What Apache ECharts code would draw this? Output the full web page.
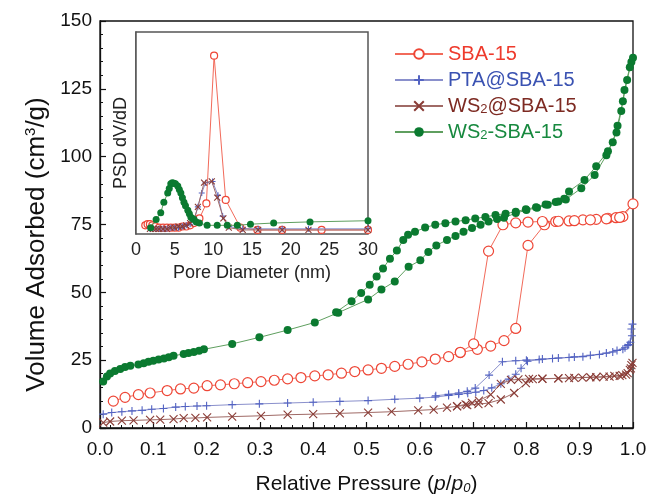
<!DOCTYPE html>
<html>
<head>
<meta charset="utf-8">
<script src="https://cdn.jsdelivr.net/npm/echarts@6/dist/echarts.min.js"></script>
<style>html,body{margin:0;padding:0;background:#fff}#c{width:650px;height:500px}</style>
</head>
<body>
<div id="c"></div>
<script>
// ---- Main isotherms: relative pressure p/p0 and volume adsorbed (cm3/g) ----
// SBA-15 (adsorption then desorption)
const sbaP = [0.025,0.047,0.072,0.094,0.126,0.151,0.176,0.201,0.226,0.252,0.277,0.302,0.327,0.352,0.377,0.403,0.428,0.453,0.478,0.503,0.528,0.553,0.578,0.604,0.629,0.654,0.676,0.708,0.733,0.758,0.780,0.803,0.834,0.855,0.880,0.906,0.931,0.953,0.968,0.981,1.0,
  0.975,0.950,0.920,0.890,0.860,0.830,0.803,0.780,0.756,0.729,0.701,0.676];
const sbaV = [9.9,11.3,12.3,12.9,13.8,14.4,14.7,15.6,15.9,16.3,16.7,17.1,17.6,18.1,18.6,19.2,19.6,20.2,20.8,21.4,22.0,22.7,23.5,24.4,25.4,26.3,27.8,29.0,30.2,32.2,36.7,67.3,74.9,76.1,76.3,76.7,76.9,77.3,77.5,77.9,82.6,
  77.6,77.1,76.7,76.4,76.2,76.1,75.9,75.6,74.9,65.2,31.0,27.9];
// PTA@SBA-15
const ptaP = [0.006,0.022,0.041,0.060,0.079,0.097,0.119,0.142,0.160,0.182,0.200,0.248,0.299,0.352,0.400,0.450,0.503,0.553,0.600,0.629,0.654,0.673,0.690,0.705,0.720,0.735,0.752,0.767,0.780,0.790,0.802,0.824,0.849,0.880,0.906,0.937,0.962,0.981,0.990,0.995,0.997,0.999,
  0.998,0.992,0.985,0.970,0.950,0.920,0.890,0.860,0.830,0.800,0.780,0.755,0.730,0.704,0.689,0.673,0.654,0.630];
const ptaV = [5.1,5.7,6.0,6.3,6.5,6.9,7.2,7.7,7.9,8.1,8.2,8.6,8.9,9.2,9.5,9.8,10.1,10.6,11.0,11.4,12.0,12.4,12.8,13.2,13.8,14.8,16.3,18.0,19.8,22.0,24.6,25.2,25.6,26.0,26.3,27.1,28.0,29.0,30.4,31.6,36.5,38.3,
  34.0,30.8,29.6,28.6,27.6,26.8,26.2,25.8,25.4,25.0,24.8,24.4,19.5,14.7,13.5,12.9,12.4,11.9];
// WS2@SBA-15
const wsaP = [0.006,0.019,0.041,0.063,0.094,0.113,0.138,0.157,0.179,0.201,0.248,0.302,0.352,0.400,0.450,0.503,0.547,0.597,0.626,0.651,0.670,0.689,0.710,0.729,0.752,0.777,0.799,0.812,0.830,0.860,0.880,0.905,0.931,0.956,0.975,0.987,0.994,0.997,0.999,
  0.996,0.990,0.980,0.965,0.945,0.920,0.890,0.860,0.830,0.805,0.785,0.771,0.752,0.733,0.711,0.698,0.686,0.670];
const wsaV = [2.0,2.4,2.7,2.8,3.0,3.1,3.3,3.6,3.7,3.9,4.2,4.5,4.9,5.1,5.4,5.7,6.0,6.5,6.8,7.5,8.0,8.4,8.8,9.2,10.5,12.9,16.5,18.0,18.1,18.3,18.4,18.6,18.7,18.9,19.2,19.7,21.4,23.2,24.0,
  22.0,20.2,19.5,19.2,18.9,18.7,18.5,18.3,18.2,18.1,17.9,17.7,16.3,12.3,10.1,9.3,8.7,8.1];
// WS2-SBA-15
const wsbP = [0.006,0.013,0.019,0.028,0.038,0.047,0.057,0.072,0.082,0.091,0.100,0.110,0.120,0.129,0.138,0.157,0.166,0.176,0.186,0.195,0.248,0.299,0.352,0.403,0.447,0.503,0.528,0.553,0.579,0.601,0.616,0.631,0.651,0.667,0.682,0.698,0.714,0.729,0.745,0.758,0.780,0.800,0.820,0.840,0.860,0.874,0.903,0.928,0.950,0.962,0.971,0.981,0.989,0.997,1.0,
  0.994,0.984,0.978,0.969,0.953,0.931,0.909,0.880,0.871,0.855,0.836,0.818,0.799,0.780,0.761,0.742,0.723,0.704,0.686,0.667,0.648,0.629,0.610,0.591,0.578,0.569,0.557,0.544,0.531,0.519,0.506,0.490,0.472,0.443];
const wsbV = [17.1,19.0,20.1,21.0,21.7,22.5,22.9,23.4,23.9,24.4,24.8,25.2,25.6,26.1,26.6,27.3,27.6,28.0,28.5,29.0,31.0,33.4,36.1,38.9,42.5,47.4,51.0,54.0,59.4,61.8,64.9,67.3,69.3,70.8,72.3,73.7,74.9,76.1,77.0,77.5,79.2,80.3,81.2,82.3,83.5,84.2,88.4,93.2,100.5,105.3,111.4,120.4,128.3,134.9,136.5,
  133.0,124.6,116.8,108.9,102.0,96.5,91.4,87.2,84.5,83.3,82.4,81.4,80.6,79.7,79.0,78.5,77.8,77.2,76.6,76.1,75.5,74.9,73.9,72.3,71.2,69.3,65.4,62.4,58.8,55.8,52.8,49.8,46.7,42.7];

// ---- Inset: pore size distribution (pore diameter nm, relative dV/dD) ----
const psdSbaD = [1.2,1.5,1.8,2.1,2.5,3.0,3.5,4.0,4.5,5.0,5.5,6.0,6.5,7.0,7.5,8.2,9.1,10.1,11.6,13.5,15.7,18.9,24.0,30.0];
const psdSbaY = [0.04,0.05,0.05,0.04,0.03,0.02,0.02,0.02,0.02,0.02,0.02,0.03,0.03,0.04,0.06,0.10,0.23,1.51,0.26,0.02,0.0,0.0,0.0,0.0];
const psdPtaD = [1.8,2.2,2.6,3.0,3.5,4.0,4.5,5.0,5.5,6.0,6.5,7.0,7.5,8.0,8.5,9.0,9.9,10.6,11.2,12.0,13.8,15.8,18.9,22.3,30.0];
const psdPtaY = [0.01,0.01,0.01,0.01,0.01,0.01,0.02,0.02,0.02,0.03,0.04,0.05,0.08,0.20,0.32,0.41,0.42,0.30,0.12,0.03,0.01,0.01,0.01,0.01,0.01];
const psdWsaD = [1.8,2.2,2.6,3.0,3.5,4.0,4.5,5.0,5.5,6.0,6.5,7.0,7.5,8.0,8.8,9.8,10.5,11.3,12.0,13.8,15.8,18.9,22.3,30.0];
const psdWsaY = [0.01,0.01,0.01,0.01,0.01,0.01,0.02,0.02,0.03,0.03,0.04,0.06,0.09,0.20,0.41,0.42,0.28,0.10,0.02,0.0,0.0,0.0,0.0,0.0];
const psdWsbD = [1.9,2.6,3.2,3.6,4.1,4.3,4.5,4.7,4.9,5.1,5.4,5.6,5.8,6.0,6.2,6.4,6.7,6.9,7.1,7.3,7.5,7.8,8.2,9.2,10.5,11.8,13.1,14.8,17.8,22.5,30.0];
const psdWsbY = [0.02,0.09,0.15,0.24,0.32,0.36,0.40,0.41,0.405,0.40,0.38,0.35,0.32,0.28,0.24,0.21,0.17,0.14,0.11,0.10,0.09,0.07,0.06,0.04,0.04,0.04,0.04,0.05,0.06,0.07,0.08];

const names = ['SBA-15', 'PTA@SBA-15', 'WS2@SBA-15', 'WS2-SBA-15'];
const xTicks = ['0.0','0.1','0.2','0.3','0.4','0.5','0.6','0.7','0.8','0.9','1.0'];

const zip = (a, b) => a.map((v, i) => [v, b[i]]);
const FONT = '"Liberation Sans", Arial, sans-serif';
const PLUS = 'path://M5 0 L5 10 M0 5 L10 5';
const CROSS = 'path://M0 0 L10 10 M10 0 L0 10';

const styles = [
  {line: '#f26a5a', sym: 'circle', size: 10, item: {color: '#fff', borderColor: '#ee4636', borderWidth: 1.2}, text: '#ee3a2c', isize: 7},
  {line: '#8a90cc', sym: PLUS, size: 8, item: {color: 'none', borderColor: '#5363c2', borderWidth: 1.1}, text: '#3a52b2', isize: 6},
  {line: '#a06a66', sym: CROSS, size: 8, item: {color: 'none', borderColor: '#8a3c36', borderWidth: 1.1}, text: '#7d2a22', isize: 6},
  {line: '#5f9f5f', sym: 'circle', size: 8, item: {color: '#0b7a30', borderColor: '#0b7a30', borderWidth: 0}, text: '#17893f', isize: 7}
];
const mainData = [zip(sbaP, sbaV), zip(ptaP, ptaV), zip(wsaP, wsaV), zip(wsbP, wsbV)];
const psdData = [zip(psdSbaD, psdSbaY), zip(psdPtaD, psdPtaY), zip(psdWsaD, psdWsaY), zip(psdWsbD, psdWsbY)];

const series = [];
names.forEach((n, i) => {
  const s = styles[i];
  series.push({
    name: n, type: 'line', xAxisIndex: 0, yAxisIndex: 0, data: mainData[i],
    symbol: s.sym, symbolSize: s.size, showSymbol: true, showAllSymbol: true,
    lineStyle: {color: s.line, width: 1}, itemStyle: s.item, z: 3 + i
  });
});
names.forEach((n, i) => {
  const s = styles[i];
  series.push({
    name: n + ' PSD', type: 'line', xAxisIndex: 1, yAxisIndex: 1, data: psdData[i],
    symbol: s.sym, symbolSize: s.isize, showSymbol: true, showAllSymbol: true,
    lineStyle: {color: s.line, width: 1}, itemStyle: s.item, z: 10 + i
  });
});

const chart = echarts.init(document.getElementById('c'), null, {renderer: 'canvas'});
chart.setOption({
  animation: false,
  backgroundColor: '#fff',
  textStyle: {fontFamily: FONT},
  grid: [
    {left: 100, top: 21, width: 533, height: 413, show: true, borderColor: '#111', borderWidth: 1.3, backgroundColor: 'rgba(0,0,0,0)'},
    {left: 136, top: 32, width: 232, height: 202, show: true, borderColor: '#555', borderWidth: 1.5, backgroundColor: '#fff', z: 8}
  ],
  legend: {
    orient: 'vertical', left: 389, top: 39, itemWidth: 48, itemHeight: 12, itemGap: 6,
    data: names.map((n, i) => ({name: n, textStyle: {color: styles[i].text}})),
    formatter: n => n.replace('WS2', 'WS{s|2}'),
    textStyle: {fontFamily: FONT, fontSize: 20, rich: {s: {fontSize: 13, verticalAlign: 'bottom', fontFamily: FONT}}}
  },
  xAxis: [
    {
      type: 'value', gridIndex: 0, min: 0, max: 1, interval: 0.1,
      axisLine: {lineStyle: {color: '#111', width: 1.3}},
      axisTick: {inside: true, length: 6, lineStyle: {color: '#111', width: 1.2}},
      minorTick: {show: true, splitNumber: 5, length: 3, lineStyle: {color: '#111', width: 1}},
      splitLine: {show: false},
      axisLabel: {fontSize: 19, color: '#111', margin: 12, fontFamily: FONT, formatter: (v) => xTicks[Math.round(v * 10)]},
      name: 'Relative Pressure ({i|p}/{i|p}{s|0})', nameLocation: 'middle', nameGap: 46,
      nameTextStyle: {fontSize: 21, color: '#111', fontFamily: FONT,
        rich: {i: {fontSize: 21, fontStyle: 'italic', fontFamily: FONT, color: '#111'},
               s: {fontSize: 13, fontStyle: 'italic', fontFamily: FONT, color: '#111', verticalAlign: 'bottom'}}}
    },
    {
      type: 'value', gridIndex: 1, min: 0, max: 30, interval: 5,
      axisLine: {lineStyle: {color: '#444', width: 1.5}},
      axisTick: {inside: true, length: 5, lineStyle: {color: '#444', width: 1.2}},
      minorTick: {show: true, splitNumber: 5, length: 3, lineStyle: {color: '#444', width: 1}},
      splitLine: {show: false},
      axisLabel: {fontSize: 18, color: '#222', margin: 7, fontFamily: FONT},
      name: 'Pore Diameter (nm)', nameLocation: 'middle', nameGap: 30,
      nameTextStyle: {fontSize: 18, color: '#222', fontFamily: FONT}
    }
  ],
  yAxis: [
    {
      type: 'value', gridIndex: 0, min: 0, max: 150, interval: 25,
      axisLine: {show: true, lineStyle: {color: '#111', width: 1.3}},
      axisTick: {show: true, inside: true, length: 6, lineStyle: {color: '#111', width: 1.2}},
      minorTick: {show: true, splitNumber: 5, length: 3, lineStyle: {color: '#111', width: 1}},
      splitLine: {show: false},
      axisLabel: {fontSize: 19, color: '#111', margin: 8, fontFamily: FONT},
      name: 'Volume Adsorbed (cm{sup|3}/g)', nameLocation: 'middle', nameGap: 48, nameRotate: 90,
      nameTextStyle: {fontSize: 26, color: '#111', fontFamily: FONT, padding: [0, 40, 0, 0],
        rich: {sup: {fontSize: 15, verticalAlign: 'top', fontFamily: FONT, color: '#111'}}}
    },
    {
      type: 'value', gridIndex: 1, min: -0.035, max: 1.715,
      axisLine: {show: true, lineStyle: {color: '#444', width: 1.5}},
      axisTick: {show: true, inside: true, length: 5, customValues: [0, 1], lineStyle: {color: '#444', width: 1.2}},
      axisLabel: {show: false},
      splitLine: {show: false},
      name: 'PSD dV/dD', nameLocation: 'middle', nameGap: 6, nameRotate: 90,
      nameTextStyle: {fontSize: 18, color: '#222', fontFamily: FONT, padding: [0, 20, 0, 0]}
    }
  ],
  series: series
});
</script>
</body>
</html>
